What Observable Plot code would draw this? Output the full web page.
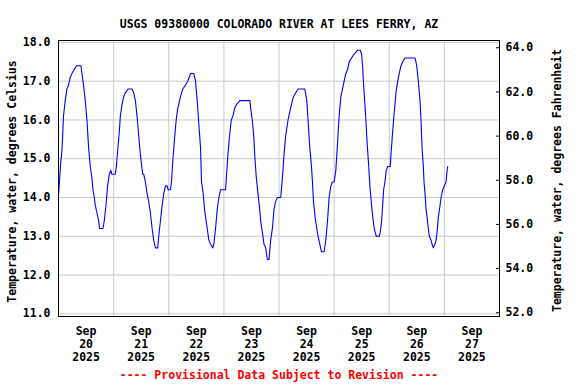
<!DOCTYPE html>
<html><head><meta charset="utf-8">
<script src="https://cdn.jsdelivr.net/npm/d3@7"></script>
<script src="https://cdn.jsdelivr.net/npm/@observablehq/plot@0.6"></script>
<style>html,body{margin:0;padding:0;background:#fff;}</style>
</head><body><div id="chart"></div>
<script>
const title = "USGS 09380000 COLORADO RIVER AT LEES FERRY, AZ";
const yLabelLeft = "Temperature, water, degrees Celsius";
const yLabelRight = "Temperature, water, degrees Fahrenheit";
const footer = "---- Provisional Data Subject to Revision ----";

const celsiusTicks = [11, 12, 13, 14, 15, 16, 17, 18];
const fahrenheitTicks = [52, 54, 56, 58, 60, 62, 64];
const labelDays = [20, 21, 22, 23, 24, 25, 26, 27];
const gridDays = [21, 22, 23, 24, 25, 26, 27];

// readings: [hour of day, temperature °C]
const sep20 = [[0.09,14.1],[0.52,14.5],[0.96,14.9],[1.48,15.2],[1.75,15.5],[2.18,16.1],[2.92,16.5],[3.67,16.8],[4.36,16.9],[5.11,17.1],[5.85,17.2],[6.85,17.3],[7.85,17.4],[9.77,17.4],[10.21,17.2],[10.91,16.9],[11.65,16.5],[12.39,16.0],[13.09,15.3],[13.83,14.8],[14.57,14.5],[15.01,14.2],[15.58,14.0],[16.01,13.8],[16.76,13.6],[17.45,13.4],[17.89,13.2],[19.37,13.2],[19.94,13.4],[20.68,13.8],[21.38,14.3],[22.12,14.6],[22.78,14.7],[23.21,14.6]];
const sep21 = [[0.74,14.6],[1.18,14.8],[1.75,15.2],[2.49,15.7],[2.92,16.1],[3.67,16.4],[4.36,16.6],[5.11,16.7],[6.28,16.8],[8.03,16.8],[8.73,16.7],[9.47,16.5],[10.21,16.1],[10.91,15.6],[11.65,15.1],[12.65,14.6],[13.09,14.6],[13.83,14.4],[14.57,14.1],[15.27,13.9],[16.01,13.6],[16.76,13.2],[17.45,12.9],[18.2,12.7],[19.2,12.7],[19.64,13.0],[20.38,13.4],[21.12,13.8],[21.82,14.1],[22.56,14.3],[23.3,14.3],[23.74,14.2]];
const sep22 = [[0.74,14.2],[1.18,14.4],[1.83,15.0],[2.49,15.5],[3.23,16.0],[3.93,16.3],[5.1,16.6],[6.11,16.8],[7.29,16.9],[8.29,17.0],[9.47,17.2],[10.91,17.2],[11.65,17.0],[12.39,16.5],[13.09,15.9],[13.83,15.3],[14.27,14.4],[15.01,14.1],[15.58,13.7],[16.01,13.5],[16.76,13.2],[17.45,12.9],[18.2,12.8],[19.2,12.7],[19.64,12.8],[20.38,13.2],[21.12,13.7],[21.82,14.0],[22.56,14.2]];
const sep23 = [[0.74,14.2],[1.18,14.6],[1.75,15.1],[2.49,15.6],[3.23,16.0],[3.93,16.1],[4.67,16.3],[5.54,16.4],[6.98,16.5],[11.35,16.5],[11.65,16.3],[12.39,16.0],[13.09,15.5],[13.53,15.0],[14.14,14.5],[14.84,14.1],[15.58,13.7],[16.01,13.4],[16.76,13.1],[17.45,12.8],[18.2,12.7],[18.94,12.4],[19.64,12.4],[20.38,12.9],[21.12,13.2],[21.82,13.7],[22.56,13.9],[23.3,14.0]];
const sep24 = [[0.74,14.0],[1.48,14.5],[2.18,15.1],[2.92,15.6],[3.93,16.0],[4.67,16.2],[5.41,16.4],[6.28,16.6],[7.29,16.7],[8.29,16.8],[11.22,16.8],[12.09,16.5],[12.65,16.0],[13.39,15.3],[14.14,14.8],[14.57,14.4],[15.01,13.9],[15.71,13.5],[16.45,13.2],[17.02,13.0],[17.76,12.8],[18.5,12.6],[19.64,12.6],[20.38,12.9],[21.12,13.4],[21.82,14.0],[22.56,14.3],[23.3,14.4]];
const sep25 = [[0.0,14.4],[0.74,14.7],[1.49,15.4],[2.18,16.1],[2.92,16.6],[3.67,16.8],[4.36,17.0],[5.11,17.2],[5.85,17.3],[6.54,17.5],[7.59,17.6],[8.73,17.7],[10.21,17.8],[11.35,17.8],[11.96,17.7],[12.39,17.4],[12.83,16.9],[13.4,16.4],[13.83,16.0],[14.27,15.5],[14.84,15.0],[15.27,14.6],[15.58,14.3],[16.01,14.0],[16.45,13.7],[17.02,13.4],[17.45,13.2],[17.89,13.1],[18.33,13.0],[19.64,13.0],[20.07,13.1],[20.68,13.4],[21.12,13.8],[21.56,14.2],[22.12,14.4],[22.69,14.7],[23.3,14.8]];
const sep26 = [[0.44,14.8],[0.74,15.1],[1.48,15.7],[2.18,16.2],[2.92,16.7],[3.67,17.0],[4.36,17.2],[5.11,17.4],[5.85,17.5],[6.85,17.6],[11.22,17.6],[11.96,17.4],[12.65,17.0],[13.4,16.5],[13.83,16.0],[14.27,15.3],[14.84,14.8],[15.14,14.4],[15.58,14.1],[16.01,13.7],[16.45,13.5],[17.02,13.2],[17.45,13.0],[18.2,12.9],[18.63,12.8],[19.2,12.7],[19.94,12.8],[20.38,12.9],[20.81,13.1],[21.38,13.5],[22.12,13.8],[22.56,14.0],[23.3,14.2]];
const sep27 = [[0.0,14.3],[0.74,14.4],[1.18,14.7],[1.48,14.8]];

const readingsByDay = [[20, sep20],[21, sep21],[22, sep22],[23, sep23],[24, sep24],[25, sep25],[26, sep26],[27, sep27]];

// axis ranges (left °C, right °F as drawn)
const celsiusDomain = [10.93, 18.05];
const fahrenheitDomain = [51.83, 64.33];

const day = (d, h = 0) => new Date(Date.UTC(2025, 8, d) + h * 3600000);
const data = readingsByDay.flatMap(([d, rows]) => rows.map(([h, t]) => ({time: day(d, h), temp: t})));
const fToC = d3.scaleLinear().domain(fahrenheitDomain).range(celsiusDomain);
const cToF = fToC.copy().domain(celsiusDomain).range(fahrenheitDomain);
const fmtDay = d3.utcFormat("%b\n%d\n%Y");

const font = "DejaVu Sans Mono";
const chart = Plot.plot({
  width: 576,
  height: 384,
  marginLeft: 58,
  marginRight: 77,
  marginTop: 40,
  marginBottom: 68,
  style: {fontFamily: font, fontSize: "11.5px", fontWeight: "bold", background: "#fff", color: "#000", overflow: "visible"},
  x: {type: "utc", domain: [day(20), day(28)]},
  y: {domain: celsiusDomain},
  marks: [
    Plot.gridY(celsiusTicks, {stroke: "#c8c8c8", strokeOpacity: 1, strokeWidth: 1}),
    Plot.gridX(gridDays.map(d => day(d)), {stroke: "#c8c8c8", strokeOpacity: 1, strokeWidth: 1}),
    Plot.line(data, {x: "time", y: "temp", stroke: "#0000ff", strokeWidth: 1.1}),
    Plot.frame({stroke: "#000", strokeWidth: 1}),
    Plot.axisY(celsiusTicks, {anchor: "left", tickSize: 0, tickPadding: 8, tickFormat: d => d.toFixed(1), label: null}),
    Plot.axisY(fahrenheitTicks.map(f => fToC(f)), {anchor: "right", tickSize: -4, tickPadding: 10, tickFormat: c => cToF(c).toFixed(1), label: null, stroke: "#000"}),
    Plot.axisX(labelDays.map(d => day(d, 12)), {anchor: "bottom", tickSize: 0, tickPadding: 10, lineHeight: 1.1, tickFormat: fmtDay, label: null}),
    Plot.text([title], {text: d => d, frameAnchor: "top", dy: -21}),
    Plot.text([footer], {text: d => d, frameAnchor: "bottom", dy: 62, fill: "#ff0000"}),
    Plot.text([yLabelLeft], {text: d => d, frameAnchor: "left", textAnchor: "middle", rotate: -90, dx: -46, dy: 3}),
    Plot.text([yLabelRight], {text: d => d, frameAnchor: "right", textAnchor: "middle", rotate: -90, dx: 58, dy: 2})
  ]
});
document.getElementById("chart").append(chart);
</script>
</body></html>
